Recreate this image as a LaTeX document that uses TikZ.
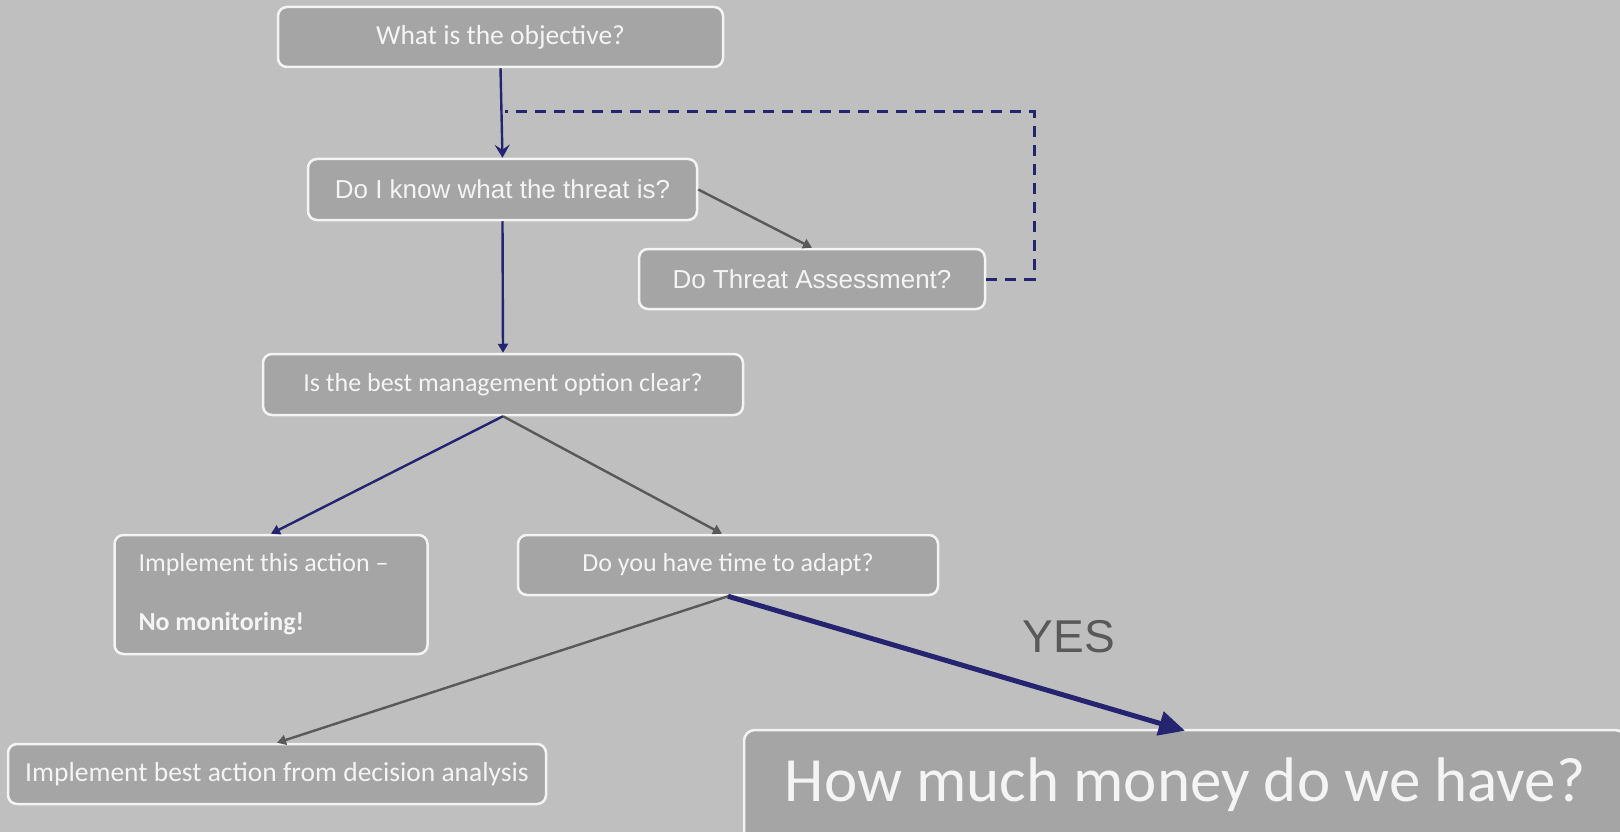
\documentclass[tikz,border=0pt]{standalone}
\usepackage{fontspec}
\setmainfont{Carlito}
\newfontfamily\arialf{Liberation Sans}
\usetikzlibrary{arrows.meta}
\definecolor{bg}{RGB}{191,191,191}
\definecolor{boxfill}{RGB}{165,165,165}
\definecolor{boxline}{RGB}{244,244,244}
\definecolor{navy}{RGB}{36,36,112}
\definecolor{darkg}{RGB}{89,89,89}
\tikzset{
  box/.style={draw=boxline, line width=2.5pt, fill=boxfill, rounded corners=9pt,
    text=boxline, inner sep=0pt, font=\fontsize{26}{32}\selectfont},
  bigbox/.style={box, font=\fontsize{27.5}{33}\selectfont},
  arialbox/.style={box, font=\arialf\fontsize{26}{32}\selectfont},
  navyarrow/.style={draw=navy, line width=2.4pt, -{Triangle[length=9pt,width=10pt]}},
  toparrow/.style={draw=navy, line width=2.4pt, -{Stealth[length=13pt,width=15pt,inset=5pt]}},
  grayarrow/.style={draw=darkg, line width=2.4pt, -{Triangle[length=9pt,width=10pt]}},
  yesarrow/.style={draw=navy, line width=5pt, -{Triangle[length=26pt,width=24pt]}},
  loopline/.style={draw=navy, line width=3pt, dash pattern=on 11pt off 8pt}
}
\begin{document}
\begin{tikzpicture}[x=1pt,y=-1pt]
\useasboundingbox (0,0) rectangle (1620,832);
\clip (0,0) rectangle (1620,832);
\fill[bg] (0,0) rectangle (1620,832);

\node[bigbox, minimum width=445pt, minimum height=60pt] (obj) at (500.5,37) {What is the objective?};
\node[arialbox, minimum width=389pt, minimum height=61pt] (know) at (502.5,189.5) {Do I know what the threat is?};
\node[arialbox, minimum width=346pt, minimum height=60pt] (ta) at (812,279) {Do Threat Assessment?};
\node[box, minimum width=480pt, minimum height=61pt] (mgmt) at (503,384.5) {Is the best management option clear?};
\node[box, minimum width=313pt, minimum height=119pt, text width=265pt, align=flush left] (impl) at (271,594.5)
  {Implement this action --\\[27pt]\textbf{No monitoring!}};
\node[box, minimum width=420pt, minimum height=60pt] (adapt) at (728,565) {Do you have time to adapt?};
\node[bigbox, minimum width=538pt, minimum height=60pt] (best) at (277,774) {Implement best action from decision analysis};
\node[box, rounded corners=11pt, minimum width=882pt, minimum height=120pt, font=\fontsize{63}{76}\selectfont] (money) at (1185,790) {\raisebox{5pt}[\height][\depth]{How much money do we have?}};
\node[font=\arialf\fontsize{46}{55}\selectfont, text=darkg] (yes) at (1069,637) {YES};

\coordinate (corner) at (1034,112);
\coordinate (dtop) at (505,112);

\draw[toparrow] (obj.south) -- (know.north);
\draw[grayarrow] (know.east) -- (ta.north);
\draw[loopline] (ta.east) -| (corner) -- (dtop);
\draw[navyarrow] (know.south) -- (mgmt.north);
\draw[navyarrow] (mgmt.south) -- (impl.north);
\draw[grayarrow] (mgmt.south) -- ([xshift=-6pt]adapt.north);
\draw[grayarrow] (adapt.south) -- (best.north);
\draw[yesarrow] (adapt.south) -- ([yshift=-2pt]money.north);
\end{tikzpicture}
\end{document}
